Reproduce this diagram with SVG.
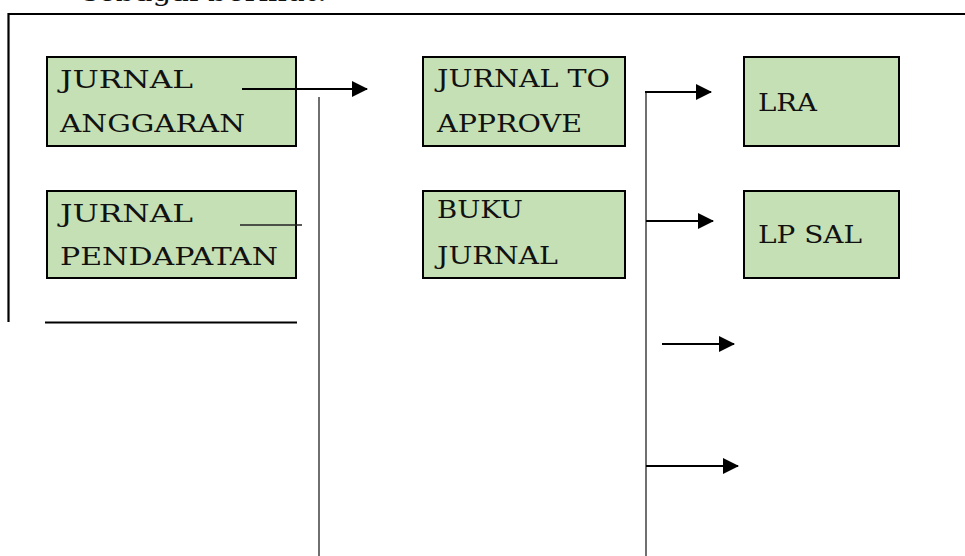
<svg xmlns="http://www.w3.org/2000/svg" width="965" height="556" viewBox="0 0 965 556">
<style>
.box{fill:#c5e0b4;stroke:#000;stroke-width:2}
.t{font-family:"DejaVu Serif","Liberation Serif",serif;font-size:25px;fill:#111}
.frame{stroke:#000;stroke-width:2.2;fill:none}
.thin{stroke:#222;stroke-width:1.3;fill:none}
.arr{stroke:#000;stroke-width:2;fill:none}
</style>
<defs>
<marker id="ah" markerUnits="userSpaceOnUse" markerWidth="16" markerHeight="16" refX="15" refY="8" orient="auto">
<path d="M0,0 L16,8 L0,16 Z" fill="#000"/>
</marker>
</defs>
<rect width="965" height="556" fill="#fff"/>
<text class="t" x="83" y="1" textLength="244" lengthAdjust="spacingAndGlyphs">sebagai berikut:</text>
<g id="frame">
<path class="frame" d="M8.5,322 V14 H965"/>
<line class="frame" x1="45" y1="322.5" x2="297" y2="322.5"/>
</g>
<g id="jurnal-anggaran">
<rect class="box" x="47" y="57" width="249" height="89"/>
<text class="t" x="60" y="87.5" textLength="133" lengthAdjust="spacingAndGlyphs">JURNAL</text>
<text class="t" x="60" y="132" textLength="185" lengthAdjust="spacingAndGlyphs">ANGGARAN</text>
</g>
<g id="jurnal-pendapatan">
<rect class="box" x="47" y="191" width="249" height="87"/>
<text class="t" x="60" y="222" textLength="133" lengthAdjust="spacingAndGlyphs">JURNAL</text>
<text class="t" x="60" y="265" textLength="218" lengthAdjust="spacingAndGlyphs">PENDAPATAN</text>
</g>
<g id="jurnal-to-approve">
<rect class="box" x="423" y="57" width="202" height="89"/>
<text class="t" x="437" y="87" textLength="173" lengthAdjust="spacingAndGlyphs">JURNAL TO</text>
<text class="t" x="437" y="132" textLength="145" lengthAdjust="spacingAndGlyphs">APPROVE</text>
</g>
<g id="buku-jurnal">
<rect class="box" x="423" y="191" width="202" height="87"/>
<text class="t" x="437" y="218" textLength="86" lengthAdjust="spacingAndGlyphs">BUKU</text>
<text class="t" x="437" y="264" textLength="121" lengthAdjust="spacingAndGlyphs">JURNAL</text>
</g>
<g id="lra">
<rect class="box" x="744" y="57" width="155" height="89"/>
<text class="t" x="758" y="111" textLength="59" lengthAdjust="spacingAndGlyphs">LRA</text>
</g>
<g id="lp-sal">
<rect class="box" x="744" y="191" width="155" height="87"/>
<text class="t" x="758" y="243" textLength="104" lengthAdjust="spacingAndGlyphs">LP SAL</text>
</g>
<g id="connectors">
<line class="arr" x1="242" y1="89" x2="367" y2="89" marker-end="url(#ah)"/>
<line class="thin" x1="319" y1="97" x2="319" y2="556"/>
<line class="thin" x1="240" y1="225" x2="302" y2="225"/>
<line class="thin" x1="646" y1="92" x2="646" y2="556"/>
<line class="arr" x1="645" y1="92" x2="711" y2="92" marker-end="url(#ah)"/>
<line class="arr" x1="646" y1="221" x2="713" y2="221" marker-end="url(#ah)"/>
<line class="arr" x1="662" y1="344" x2="734" y2="344" marker-end="url(#ah)"/>
<line class="arr" x1="646" y1="466" x2="738" y2="466" marker-end="url(#ah)"/>
</g>
</svg>
